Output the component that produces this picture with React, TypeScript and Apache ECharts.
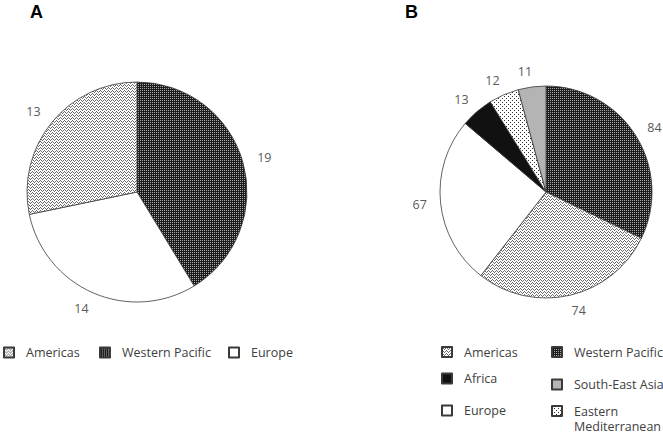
import React, { useEffect, useRef } from 'react';
import * as echarts from 'echarts';

const panelTitles = ['A', 'B'];
const regionsA = ['Western Pacific', 'Europe', 'Americas'];
const valuesA = [19, 14, 13];
const regionsB = ['Western Pacific', 'Americas', 'Europe', 'Africa', 'Eastern Mediterranean', 'South-East Asia'];
const valuesB = [84, 74, 67, 13, 12, 11];

function makeTile(w: number, h: number, bg: string, fg: string, cells: number[][]) {
  const c = document.createElement('canvas');
  c.width = w;
  c.height = h;
  const ctx = c.getContext('2d')!;
  ctx.fillStyle = bg;
  ctx.fillRect(0, 0, w, h);
  ctx.fillStyle = fg;
  cells.forEach(([x, y]) => ctx.fillRect(x, y, 1, 1));
  return { image: c, repeat: 'repeat', imageWidth: w, imageHeight: h } as any;
}

export default function App() {
  const ref = useRef<HTMLDivElement>(null);
  useEffect(() => {
    if (!ref.current) return;
    const chart = echarts.init(ref.current, null, { renderer: 'svg' });
    const fills: Record<string, any> = {
      'Western Pacific': makeTile(2, 2, '#1c1c1c', '#a8a8a8', [[0, 0]]),
      Americas: makeTile(4, 3, '#ffffff', '#6a6a6a', [[0, 0], [1, 1], [3, 1], [2, 2]]),
      Europe: '#ffffff',
      Africa: '#111111',
      'South-East Asia': '#b4b4b4',
      'Eastern Mediterranean': makeTile(4, 4, '#ffffff', '#303030', [[0, 0], [2, 2]]),
    };
    const font = 'Open Sans';
    const mkData = (names: string[], vals: number[]) =>
      names.map((n, i) => ({ name: n, value: vals[i], itemStyle: { color: fills[n] } }));
    const pieBase = (len: number) => ({
      type: 'pie',
      startAngle: 90,
      clockwise: true,
      avoidLabelOverlap: false,
      itemStyle: { borderColor: '#3a3a3a', borderWidth: 0.8 },
      label: {
        show: true,
        position: 'outside',
        formatter: '{c}',
        color: '#5a5a5a',
        fontFamily: font,
        fontSize: 12.5,
      },
      labelLine: { show: false, length: len, length2: 0 },
      labelLayout: (p: any) => {
        const half = p.labelRect.width / 2;
        return { dx: p.align === 'left' ? -half : p.align === 'right' ? half : 0 };
      },
      emphasis: { disabled: true },
    });
    const mkLegend = (name: string, left: number, cy: number, shown?: string) => ({
      show: true,
      data: [{ name, icon: 'rect' }],
      left,
      top: cy - 8.5,
      padding: 0,
      itemWidth: 10,
      itemHeight: 10,
      selectedMode: false,
      formatter: shown ?? '{name}',
      textStyle: {
        fontFamily: font,
        fontSize: 12.5,
        color: '#404040',
        lineHeight: 17,
        padding: [0, 0, 0, 7],
      },
    });
    chart.setOption({
      animation: false,
      backgroundColor: '#ffffff',
      graphic: [
        { type: 'text', left: 30, top: 3, style: { text: panelTitles[0], font: 'bold 18px "Liberation Sans", Arial', fill: '#000' } },
        { type: 'text', left: 405, top: 3, style: { text: panelTitles[1], font: 'bold 18px "Liberation Sans", Arial', fill: '#000' } },
        { type: 'text', left: 574, top: 420, style: { text: 'Mediterranean', font: '12.5px "Open Sans"', fill: '#404040' } },
      ],
      legend: [
        mkLegend('Americas', 3, 352.5),
        mkLegend('Western Pacific', 99, 352.5),
        mkLegend('Europe', 228, 352.5),
        mkLegend('Americas', 441, 352),
        mkLegend('Western Pacific', 551, 352),
        mkLegend('Africa', 441, 378.5),
        mkLegend('South-East Asia', 551, 384.5),
        mkLegend('Europe', 441, 410.5),
        mkLegend('Eastern Mediterranean', 551, 411, 'Eastern'),
      ],
      series: [
        { ...pieBase(17), name: 'A', center: [137, 192], radius: 110, data: mkData(regionsA, valuesA) },
        { ...pieBase(16), name: 'B', center: [546, 192], radius: 106, data: mkData(regionsB, valuesB) },
      ],
    });
    return () => chart.dispose();
  }, []);
  return <div ref={ref} style={{ width: 663, height: 434, position: 'absolute', left: 0, top: 0 }} />;
}
